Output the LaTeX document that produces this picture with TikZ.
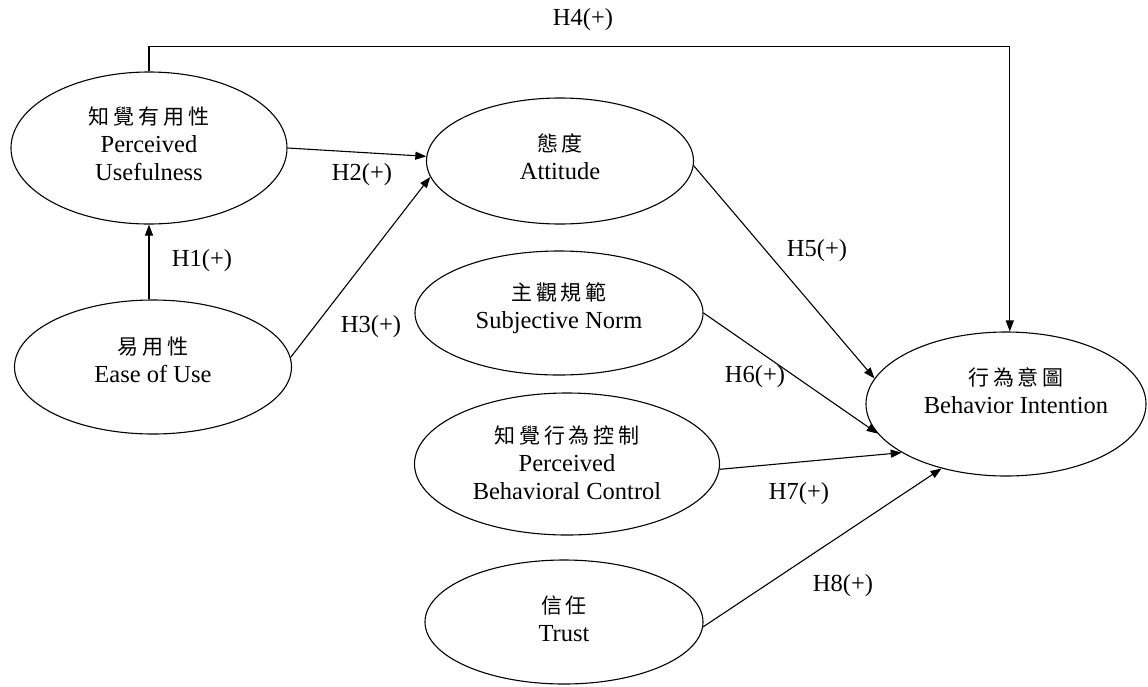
\documentclass[tikz,border=0pt]{standalone}
\usepackage{fontspec}
\setmainfont{Liberation Serif}
\newfontfamily\cjk{Noto Sans CJK TC}[LetterSpace=18]
\usetikzlibrary{arrows.meta,shapes.geometric}
\begin{document}
\begin{tikzpicture}[x=1pt,y=-1pt,
  ell/.style={draw, ellipse, line width=1.1pt, inner sep=0pt},
  lbl/.style={align=center, font=\fontsize{24.5}{28}\selectfont, inner sep=0pt},
  hyp/.style={font=\fontsize{24.5}{28}\selectfont, inner sep=0pt},
  arr/.style={line width=1.1pt, -{Triangle[length=11pt,width=8pt]}}
]
\useasboundingbox (0,0) rectangle (1148,686);
\newcommand{\zhtext}[1]{{\cjk\fontsize{21}{28}\selectfont #1}}

\node[ell, minimum width=276pt, minimum height=152pt,
  label={[lbl, yshift=4pt]center:\zhtext{知覺有用性}\\Perceived\\Usefulness}] (pu) at (149,148) {};
\node[ell, minimum width=277pt, minimum height=134pt,
  label={[lbl, yshift=7pt]center:\zhtext{易用性}\\Ease of Use}] (eou) at (153,367) {};
\node[ell, minimum width=267pt, minimum height=126pt,
  label={[lbl, yshift=4pt]center:\zhtext{態度}\\Attitude}] (att) at (560,161) {};
\node[ell, minimum width=288pt, minimum height=124pt,
  label={[lbl, yshift=5pt]center:\zhtext{主觀規範}\\Subjective Norm}] (sn) at (559,313) {};
\node[ell, minimum width=305pt, minimum height=142pt,
  label={[lbl, yshift=1pt]center:\zhtext{知覺行為控制}\\Perceived\\Behavioral Control}] (pbc) at (567,464) {};
\node[ell, minimum width=278pt, minimum height=124pt,
  label={[lbl, yshift=3pt]center:\zhtext{信任}\\Trust}] (tr) at (564,622) {};
\node[ell, minimum width=280pt, minimum height=144pt,
  label={[lbl, yshift=13pt, xshift=10pt]center:\zhtext{行為意圖}\\Behavior Intention}] (bi) at (1006,404) {};

\draw[arr] (pu.north) -- ++(0,-25) -| (bi.87);
\draw[arr] (pu.south |- eou.north) -- (pu.south);
\draw[arr] (pu.east) -- (att.178);
\draw[arr] (eou.4) -- (att.187);
\draw[arr] (att.-2) -- (bi.169);
\draw[arr] (sn.east) -- (bi.193);
\draw[arr] (pbc.-2) -- (bi.205);
\draw[arr] (tr.-2) -- (bi.225);

\node[hyp] (h1) at (202,261) {H1(+)};
\node[hyp] (h2) at (362,175) {H2(+)};
\node[hyp] (h3) at (371,327) {H3(+)};
\node[hyp] (h4) at (583,20) {H4(+)};
\node[hyp] (h5) at (817,251) {H5(+)};
\node[hyp] (h6) at (755,377) {H6(+)};
\node[hyp] (h7) at (799,494) {H7(+)};
\node[hyp] (h8) at (843,586) {H8(+)};
\end{tikzpicture}
\end{document}
